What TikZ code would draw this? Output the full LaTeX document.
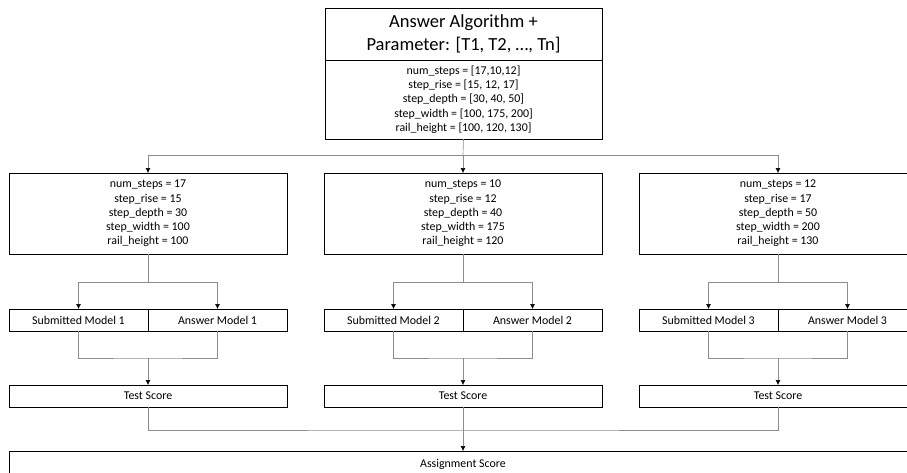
\documentclass[tikz,border=0pt]{standalone}
\usepackage{fontspec}
\setmainfont{Carlito}
\usetikzlibrary{arrows.meta}

\begin{document}
\begin{tikzpicture}[x=1pt, y=-1pt,
  every node/.style={draw=black, fill=white, align=center, inner sep=0pt, outer sep=0pt, font=\fontsize{11.9}{14.3}\selectfont},
  box/.style={minimum width=278pt, minimum height=81pt},
  half/.style={minimum width=139pt, minimum height=22pt},
  wide/.style={minimum width=278pt, minimum height=22pt},
  link/.style={draw=black!45, line width=0.6pt},
  arr/.style={link, -{Latex[length=5pt, width=5pt, black]}}]
\clip (0,0) rectangle (907,472);
\fill[white] (0,0) rectangle (907,472);

\node[minimum width=277pt, minimum height=52pt, font=\fontsize{18.5}{23}\selectfont] (title) at (463.5,34) {Answer Algorithm +\\Parameter: [T1, T2, …, Tn]};
\node[minimum width=277pt, minimum height=79pt] (params) at (463.5,99.5) {num\_steps = [17,10,12]\\step\_rise = [15, 12, 17]\\step\_depth = [30, 40, 50]\\step\_width = [100, 175, 200]\\rail\_height = [100, 120, 130]};

\node[box] (par1) at (148,213.5) {num\_steps = 17\\step\_rise = 15\\step\_depth = 30\\step\_width = 100\\rail\_height = 100};
\node[box] (par2) at (463,213.5) {num\_steps = 10\\step\_rise = 12\\step\_depth = 40\\step\_width = 175\\rail\_height = 120};
\node[box] (par3) at (778,213.5) {num\_steps = 12\\step\_rise = 17\\step\_depth = 50\\step\_width = 200\\rail\_height = 130};

\node[half] (sub1) at (78.5,320) {Submitted Model 1};
\node[half] (ans1) at (217.5,320) {Answer Model 1};
\node[half] (sub2) at (393.5,320) {Submitted Model 2};
\node[half] (ans2) at (532.5,320) {Answer Model 2};
\node[half] (sub3) at (708.5,320) {Submitted Model 3};
\node[half] (ans3) at (847.5,320) {Answer Model 3};

\node[wide] (test1) at (148,396) {Test Score};
\node[wide] (test2) at (463,396) {Test Score};
\node[wide] (test3) at (778,396) {Test Score};

\node[minimum width=908pt, minimum height=26pt] (total) at (463,464) {Assignment Score};

\coordinate (split0) at (463,155);
\coordinate (split1) at (148,282);
\coordinate (split2) at (463,282);
\coordinate (split3) at (778,282);
\coordinate (merge1) at (148,358);
\coordinate (merge2) at (463,358);
\coordinate (merge3) at (778,358);
\coordinate (merge0) at (463,430);

\draw[link] (params.south) -- (split0);
\draw[arr] (split0) -| (par1.north);
\draw[arr] (split0) -- (par2.north);
\draw[arr] (split0) -| (par3.north);

\draw[link] (par1.south) -- (split1);
\draw[arr] (split1) -| (sub1.north);
\draw[arr] (split1) -| (ans1.north);
\draw[link] (par2.south) -- (split2);
\draw[arr] (split2) -| (sub2.north);
\draw[arr] (split2) -| (ans2.north);
\draw[link] (par3.south) -- (split3);
\draw[arr] (split3) -| (sub3.north);
\draw[arr] (split3) -| (ans3.north);

\draw[link] (sub1.south) |- (merge1) -| (ans1.south);
\draw[arr] (merge1) -- (test1.north);
\draw[link] (sub2.south) |- (merge2) -| (ans2.south);
\draw[arr] (merge2) -- (test2.north);
\draw[link] (sub3.south) |- (merge3) -| (ans3.south);
\draw[arr] (merge3) -- (test3.north);

\draw[link] (test1.south) |- (merge0) -| (test3.south);
\draw[link] (test2.south) -- (merge0);
\draw[arr] (merge0) -- (total.north);
\end{tikzpicture}
\end{document}
